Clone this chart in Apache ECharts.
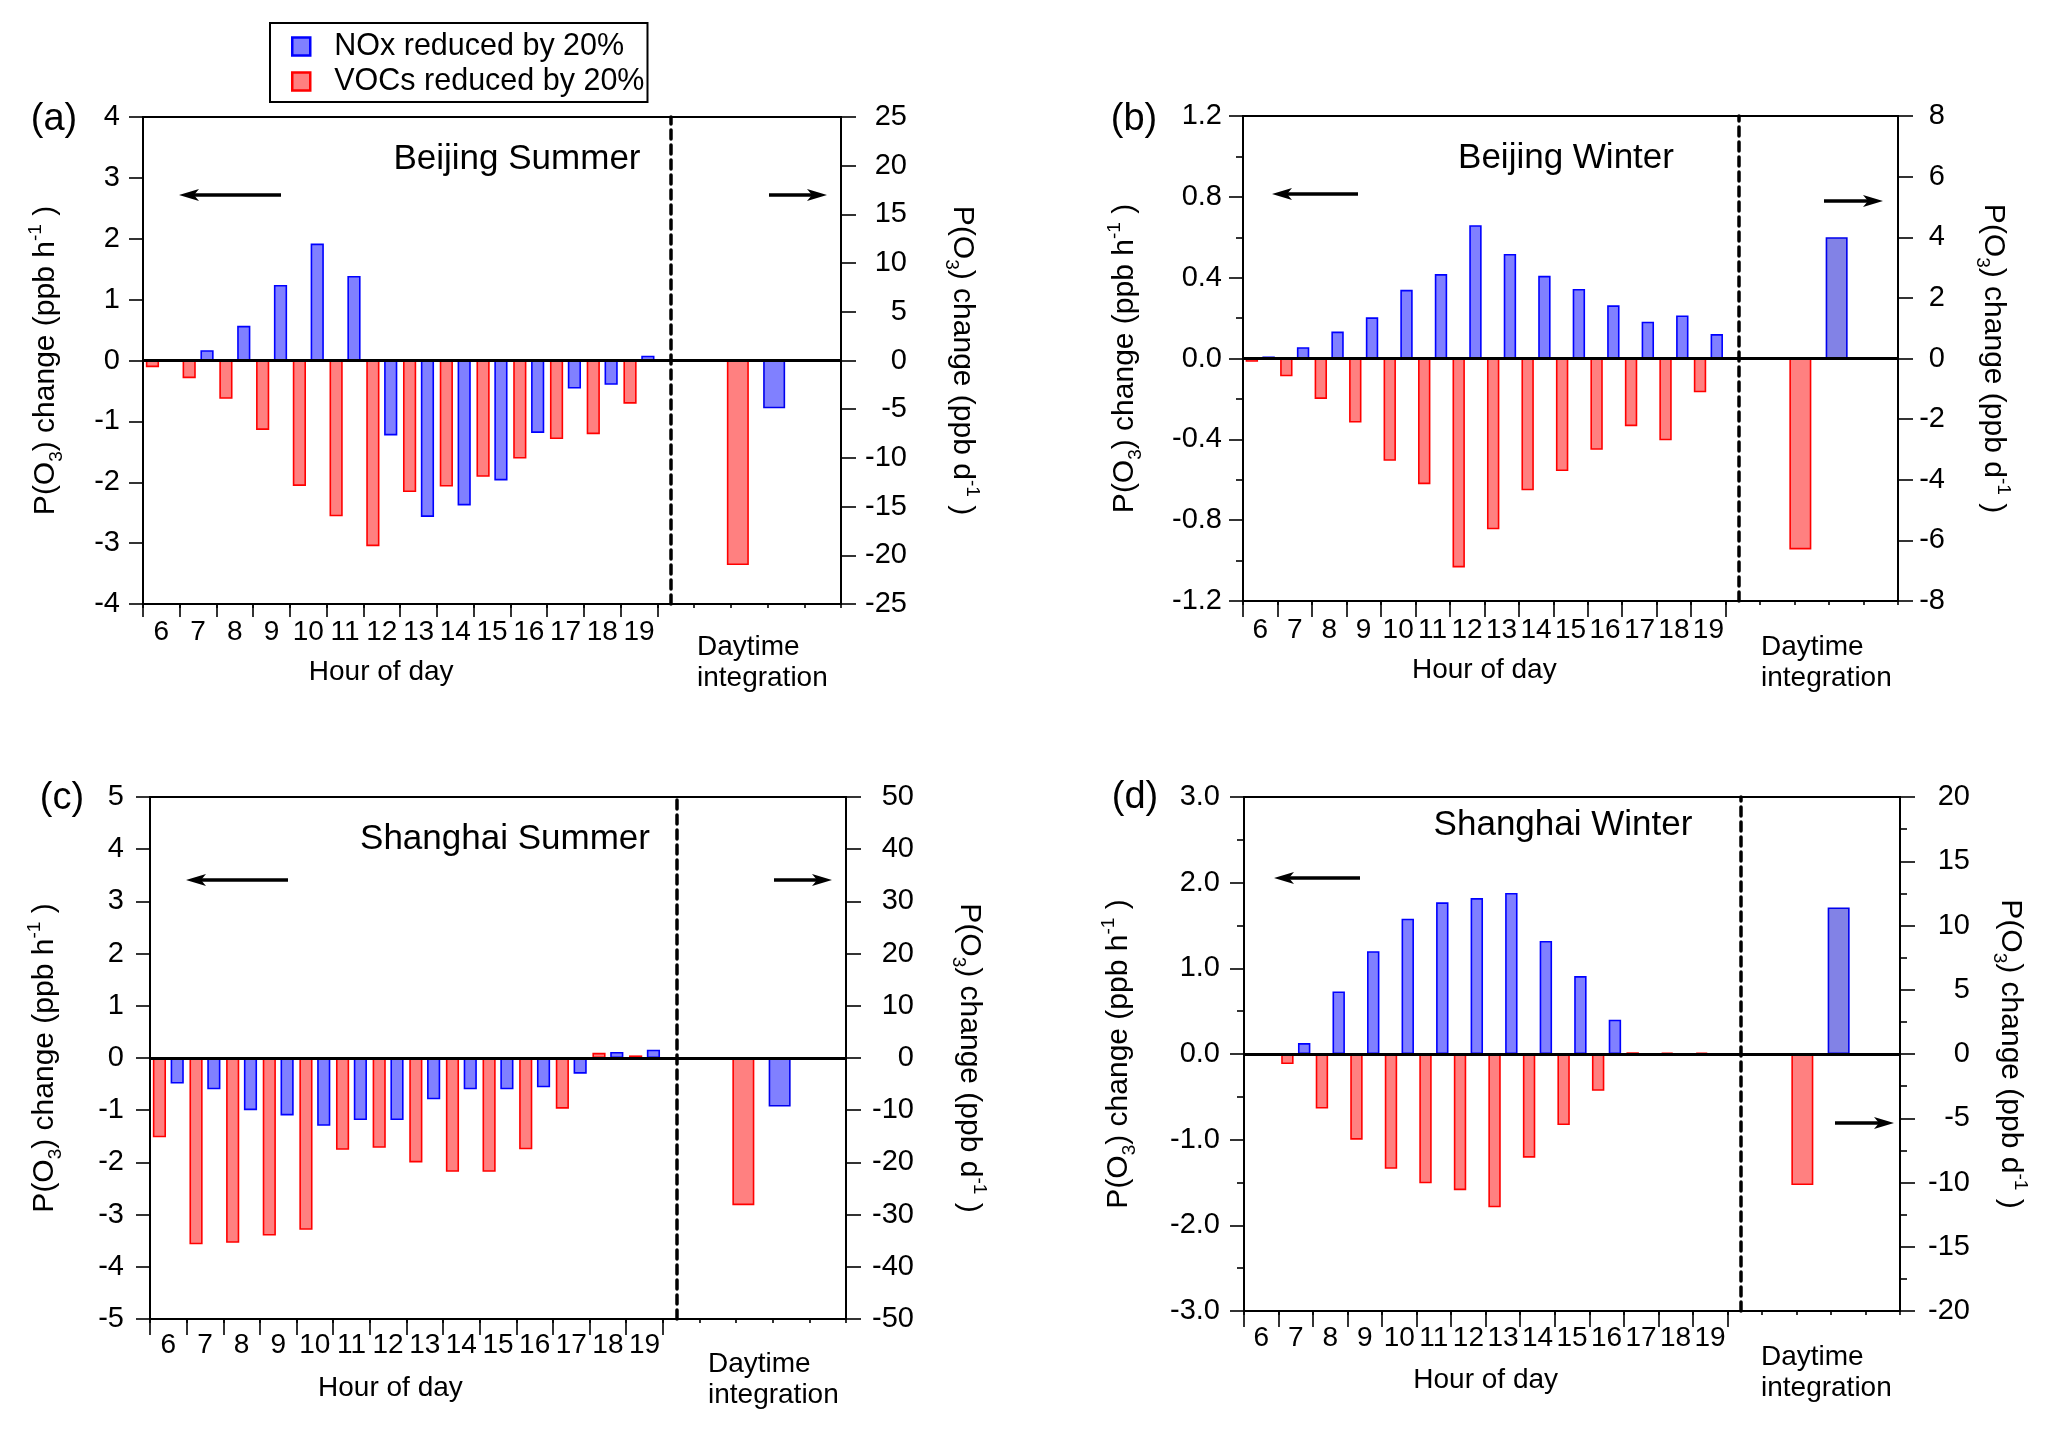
<!DOCTYPE html>
<html><head><meta charset="utf-8">
<script src="https://cdn.jsdelivr.net/npm/echarts@6/dist/echarts.min.js"></script>
<style>html,body{margin:0;padding:0;background:#fff}#c{width:2067px;height:1430px}</style>
</head><body><div id="c"></div>
<script>
// ---------- data ----------
const hours = ['6','7','8','9','10','11','12','13','14','15','16','17','18','19'];
const extraSlots = ['', '', '', '', ''];
const nameNOx = 'NOx reduced by 20%';
const nameVOC = 'VOCs reduced by 20%';

// (a) Beijing Summer
const bjSummerNOx  = [0.02, 0.17, 0.57, 1.24, 1.92, 1.39, -1.23, -2.57, -2.38, -1.97, -1.19, -0.46, -0.40, 0.08];
const bjSummerVOCs = [-0.11, -0.29, -0.63, -1.14, -2.06, -2.56, -3.05, -2.16, -2.07, -1.91, -1.61, -1.29, -1.21, -0.71];
const bjSummerDayNOx  = [-4.9];
const bjSummerDayVOCs = [-21.0];
const bjSummerLeftAxis  = [-4, 4, 1];
const bjSummerRightAxis = [-25, 25, 5];

// (b) Beijing Winter
const bjWinterNOx  = [0.01, 0.056, 0.133, 0.204, 0.34, 0.418, 0.66, 0.517, 0.409, 0.344, 0.263, 0.182, 0.213, 0.121];
const bjWinterVOCs = [-0.016, -0.088, -0.2, -0.317, -0.506, -0.622, -1.034, -0.845, -0.652, -0.557, -0.452, -0.335, -0.405, -0.167];
const bjWinterDayNOx  = [4.0];
const bjWinterDayVOCs = [-6.3];
const bjWinterLeftAxis  = [-1.2, 1.2, 0.4];
const bjWinterRightAxis = [-8, 8, 2];

// (c) Shanghai Summer
const shSummerNOx  = [-0.49, -0.6, -1.0, -1.1, -1.3, -1.19, -1.19, -0.79, -0.6, -0.6, -0.56, -0.3, 0.115, 0.16];
const shSummerVOCs = [-1.52, -3.57, -3.54, -3.40, -3.29, -1.76, -1.72, -2.0, -2.18, -2.18, -1.75, -0.97, 0.10, 0.05];
const shSummerDayNOx  = [-9.3];
const shSummerDayVOCs = [-28.2];
const shSummerLeftAxis  = [-5, 5, 1];
const shSummerRightAxis = [-50, 50, 10];

// (d) Shanghai Winter
const shWinterNOx  = [-0.015, 0.128, 0.73, 1.2, 1.58, 1.77, 1.82, 1.88, 1.32, 0.91, 0.40, -0.02, -0.015, -0.015];
const shWinterVOCs = [0.005, -0.118, -0.636, -1.0, -1.34, -1.51, -1.59, -1.79, -1.21, -0.83, -0.43, 0.02, 0.015, 0.015];
const shWinterDayNOx  = [11.4];
const shWinterDayVOCs = [-10.2];
const shWinterLeftAxis  = [-3, 3, 1];
const shWinterRightAxis = [-20, 20, 5];

// ---------- layout / styling ----------
const FONT = '"Liberation Sans", Arial, Helvetica, sans-serif';
const panels = [
  {tag:'(a)', title:'Beijing Summer', nox:bjSummerNOx, voc:bjSummerVOCs, dayNox:bjSummerDayNOx, dayVoc:bjSummerDayVOCs,
   la:bjSummerLeftAxis, ra:bjSummerRightAxis, lMinor:false, rMinor:false, fmt:null,
   L:143, R:841, T:117, B:604, dash:671, tickLen:13, labMargin:14, hourGap:54, hourShift:19,
   lMargin:23, rMargin:66, lNameGap:77, rNameGap:101,
   tagXY:[54,120], titleXY:[517,159], arrowL:[281,179,195], arrowR:[769,827,195], dayXY:[697,632], dayBlue:'#8080ff'},
  {tag:'(b)', title:'Beijing Winter', nox:bjWinterNOx, voc:bjWinterVOCs, dayNox:bjWinterDayNOx, dayVoc:bjWinterDayVOCs,
   la:bjWinterLeftAxis, ra:bjWinterRightAxis, lMinor:true, rMinor:false, fmt:1,
   L:1243, R:1898, T:116, B:601, dash:1739, tickLen:16, labMargin:15, hourGap:55, hourShift:0,
   lMargin:21, rMargin:47, lNameGap:98, rNameGap:75,
   tagXY:[1134,120], titleXY:[1566,158], arrowL:[1358,1272,194], arrowR:[1824,1883,201], dayXY:[1761,632], dayBlue:'#8282e6'},
  {tag:'(c)', title:'Shanghai Summer', nox:shSummerNOx, voc:shSummerVOCs, dayNox:shSummerDayNOx, dayVoc:shSummerDayVOCs,
   la:shSummerLeftAxis, ra:shSummerRightAxis, lMinor:false, rMinor:false, fmt:null,
   L:150, R:846, T:797, B:1319, dash:677, tickLen:16, labMargin:12, hourGap:55, hourShift:16,
   lMargin:26, rMargin:68, lNameGap:85, rNameGap:103,
   tagXY:[62,799], titleXY:[505,839], arrowL:[288,186,880], arrowR:[774,832,880], dayXY:[708,1349], dayBlue:'#8080ff'},
  {tag:'(d)', title:'Shanghai Winter', nox:shWinterNOx, voc:shWinterVOCs, dayNox:shWinterDayNOx, dayVoc:shWinterDayVOCs,
   la:shWinterLeftAxis, ra:shWinterRightAxis, lMinor:true, rMinor:true, fmt:1,
   L:1244, R:1900, T:797, B:1311, dash:1741, tickLen:16, labMargin:13, hourGap:55, hourShift:0,
   lMargin:24, rMargin:70, lNameGap:105, rNameGap:90,
   tagXY:[1135,798], titleXY:[1563,825], arrowL:[1360,1274,878], arrowR:[1835,1894,1123], dayXY:[1761,1342], dayBlue:'#8282e6'}
];

const nameRich = {
  n:{fontSize:30, fontFamily:FONT, color:'#000', lineHeight:40, verticalAlign:'middle'},
  b:{fontSize:19, fontFamily:FONT, color:'#000', lineHeight:22, verticalAlign:'bottom'},
  p:{fontSize:19, fontFamily:FONT, color:'#000', lineHeight:22, verticalAlign:'top'}
};
function o3Name(u){ return '{n|P(O}{b|3}{n|) change (ppb ' + u + '}{p|-1}{n| )}'; }

function arrow(x0, x1, y){
  const d = Math.sign(x1 - x0);
  return {type:'group', silent:true, children:[
    {type:'line', shape:{x1:x0, y1:y, x2:x1 - d*14, y2:y}, style:{stroke:'#000', lineWidth:3.5}},
    {type:'polygon', shape:{points:[[x1,y],[x1-d*20,y-6],[x1-d*15,y],[x1-d*20,y+6]]}, style:{fill:'#000'}}
  ]};
}

const grids=[], xAxes=[], yAxes=[], series=[], graphics=[];
const tickStyle = {color:'#000', width:1.6};
panels.forEach(p => {
  const W = p.R - p.L, H = p.B - p.T, step = W / 19;
  const gi = grids.length;
  grids.push({left:p.L, top:p.T, width:W, height:H, show:true, borderColor:'#000', borderWidth:2, backgroundColor:'rgba(0,0,0,0)'});
  grids.push({left:p.L, top:p.T, width:step*14, height:H, show:false});
  grids.push({left:p.dash, top:p.T, width:p.R - p.dash, height:H, show:false});

  const xi = xAxes.length;
  xAxes.push({gridIndex:gi, type:'category', data:hours.concat(extraSlots),
    axisLine:{show:false, onZero:false}, axisTick:{show:true, length:4, interval:0, lineStyle:tickStyle},
    axisLabel:{show:false}, splitLine:{show:false}});
  xAxes.push({gridIndex:gi+1, type:'category', data:hours,
    axisLine:{show:false, onZero:false}, axisTick:{show:true, length:p.tickLen, interval:0, lineStyle:tickStyle},
    axisLabel:{interval:0, margin:p.labMargin, fontSize:28, lineHeight:28, fontFamily:FONT, color:'#000'},
    name:'Hour of day', nameLocation:'middle', nameGap:p.hourGap,
    nameTextStyle:{fontSize:28, lineHeight:28, fontFamily:FONT, color:'#000', padding:[0, p.hourShift*2, 0, 0]}});
  xAxes.push({gridIndex:gi+2, type:'category', data:['Daytime integration'], show:false});

  const yi = yAxes.length;
  const lfmt = p.fmt ? (v => v.toFixed(p.fmt)) : (v => String(v));
  yAxes.push({gridIndex:gi, type:'value', position:'left', min:p.la[0], max:p.la[1], interval:p.la[2],
    axisLine:{show:false}, axisTick:{show:true, length:14, lineStyle:tickStyle},
    minorTick:{show:p.lMinor, splitNumber:2, length:7, lineStyle:tickStyle},
    axisLabel:{margin:p.lMargin, fontSize:29, fontFamily:FONT, color:'#000', formatter:lfmt},
    splitLine:{show:false},
    name:o3Name('h'), nameLocation:'middle', nameRotate:90, nameGap:p.lNameGap,
    nameTextStyle:{rich:nameRich, fontSize:30, fontFamily:FONT, lineHeight:40, color:'#000'}});
  yAxes.push({gridIndex:gi+1, type:'value', show:false});
  yAxes.push({gridIndex:gi+2, type:'value', position:'right', min:p.ra[0], max:p.ra[1], interval:p.ra[2],
    axisLine:{show:false}, axisTick:{show:true, length:15, lineStyle:tickStyle},
    minorTick:{show:p.rMinor, splitNumber:2, length:7, lineStyle:tickStyle},
    axisLabel:{margin:p.rMargin, align:'right', fontSize:29, fontFamily:FONT, color:'#000'},
    splitLine:{show:false},
    name:o3Name('d'), nameLocation:'middle', nameRotate:-90, nameGap:p.rNameGap,
    nameTextStyle:{rich:nameRich, fontSize:30, fontFamily:FONT, lineHeight:40, color:'#000'}});
  yAxes.push({gridIndex:gi+2, type:'value', position:'left', min:p.ra[0], max:p.ra[1], interval:p.ra[2],
    axisLine:{show:true, lineStyle:{color:'#000', width:3.5, type:[9,6]}},
    axisTick:{show:false}, axisLabel:{show:false}, splitLine:{show:false}});

  const red = {color:'#ff8080', borderColor:'#ff0000', borderWidth:1.6};
  const blue = {color:'#8080ff', borderColor:'#0000ff', borderWidth:1.6};
  series.push({name:nameVOC, type:'bar', xAxisIndex:xi, yAxisIndex:yi, data:p.voc,
    barWidth:'36%', barGap:'35%', itemStyle:red,
    markLine:{silent:true, symbol:'none', label:{show:false}, animation:false,
      lineStyle:{color:'#000', width:2.8, type:'solid'}, data:[{yAxis:0}]}});
  series.push({name:nameNOx, type:'bar', xAxisIndex:xi, yAxisIndex:yi, data:p.nox,
    barWidth:'36%', barGap:'35%', itemStyle:blue});
  series.push({name:nameVOC, type:'bar', xAxisIndex:xi+2, yAxisIndex:yi+2, data:p.dayVoc,
    barWidth:22, barGap:'65%', itemStyle:red});
  series.push({name:nameNOx, type:'bar', xAxisIndex:xi+2, yAxisIndex:yi+2, data:p.dayNox,
    barWidth:22, barGap:'65%', itemStyle:{color:p.dayBlue, borderColor:'#0000ee', borderWidth:1.6}});

  graphics.push({type:'text', x:p.tagXY[0], y:p.tagXY[1], silent:true,
    style:{text:p.tag, fontSize:38, fontFamily:FONT, fill:'#000', align:'center', verticalAlign:'middle'}});
  graphics.push({type:'text', x:p.titleXY[0], y:p.titleXY[1], silent:true,
    style:{text:p.title, fontSize:35, fontFamily:FONT, fill:'#000', align:'center', verticalAlign:'middle'}});
  graphics.push({type:'text', x:p.dayXY[0], y:p.dayXY[1], silent:true,
    style:{text:'Daytime\nintegration', fontSize:28, lineHeight:31, fontFamily:FONT, fill:'#000', align:'left', verticalAlign:'top'}});
  graphics.push(arrow(p.arrowL[0], p.arrowL[1], p.arrowL[2]));
  graphics.push(arrow(p.arrowR[0], p.arrowR[1], p.arrowR[2]));
});

const chart = echarts.init(document.getElementById('c'), null, {renderer:'canvas'});
chart.setOption({
  animation:false,
  backgroundColor:'#fff',
  textStyle:{fontFamily:FONT},
  legend:{data:[nameNOx, nameVOC], orient:'vertical', left:270, top:23, selectedMode:false,
    icon:'rect', itemWidth:18, itemHeight:18, itemGap:4,
    borderColor:'#000', borderWidth:2, padding:[8, 3, 5, 21],
    itemStyle:{borderWidth:2.5},
    textStyle:{fontSize:30.5, lineHeight:30, fontFamily:FONT, color:'#000', padding:[0,0,0,19]}},
  grid:grids, xAxis:xAxes, yAxis:yAxes, series:series, graphic:graphics
});
</script></body></html>
